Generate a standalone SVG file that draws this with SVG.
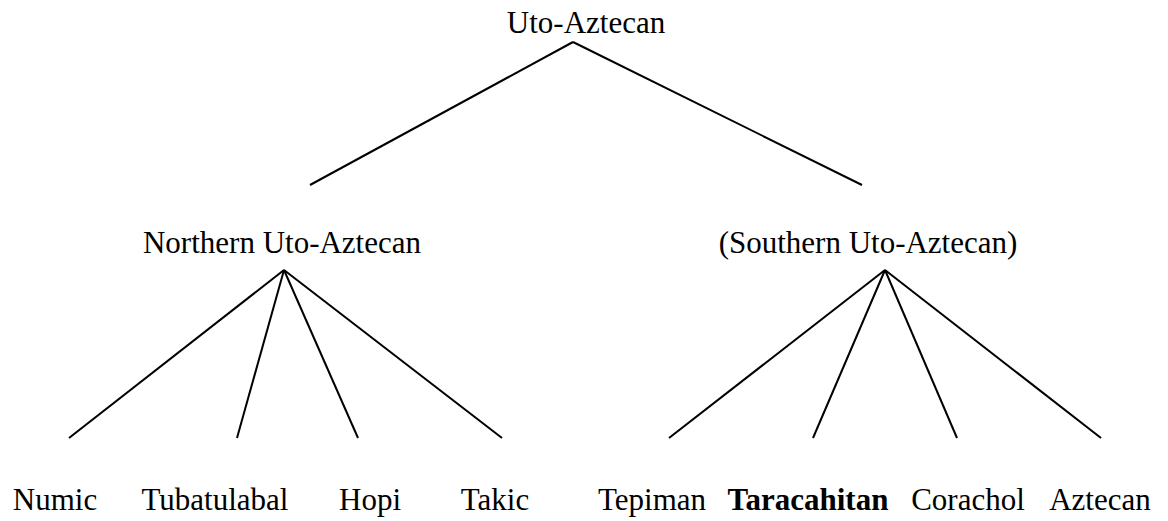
<svg xmlns="http://www.w3.org/2000/svg" width="1168" height="521" viewBox="0 0 1168 521">
<style>
text{font-family:"Liberation Serif","Times New Roman",serif;font-size:31px;fill:#000;text-anchor:middle}
.b{font-weight:bold}
#connectors line{stroke:#000;stroke-width:2;stroke-linecap:butt}
</style>
<rect width="1168" height="521" fill="#fff"/>
<g id="connectors">
<line x1="573" y1="42" x2="310" y2="185"/>
<line x1="573" y1="42" x2="862" y2="185"/>
<line x1="284" y1="270" x2="69" y2="438"/>
<line x1="284" y1="270" x2="237" y2="438"/>
<line x1="284" y1="270" x2="358" y2="438"/>
<line x1="284" y1="270" x2="502" y2="438"/>
<line x1="885" y1="270" x2="669" y2="438"/>
<line x1="885" y1="270" x2="813" y2="438"/>
<line x1="885" y1="270" x2="957" y2="438"/>
<line x1="885" y1="270" x2="1101" y2="438"/>
</g>
<g id="n-uto"><text x="586" y="33">Uto-Aztecan</text></g>
<g id="n-north"><text x="282" y="253">Northern Uto-Aztecan</text></g>
<g id="n-south"><text x="868" y="253">(Southern Uto-Aztecan)</text></g>
<g id="n-numic"><text x="55" y="510">Numic</text></g>
<g id="n-tubatulabal"><text x="215" y="510">Tubatulabal</text></g>
<g id="n-hopi"><text x="370" y="510">Hopi</text></g>
<g id="n-takic"><text x="495" y="510">Takic</text></g>
<g id="n-tepiman"><text x="652" y="510">Tepiman</text></g>
<g id="n-taracahitan"><text class="b" x="808" y="510">Taracahitan</text></g>
<g id="n-corachol"><text x="968" y="510">Corachol</text></g>
<g id="n-aztecan"><text x="1100" y="510">Aztecan</text></g>
</svg>
